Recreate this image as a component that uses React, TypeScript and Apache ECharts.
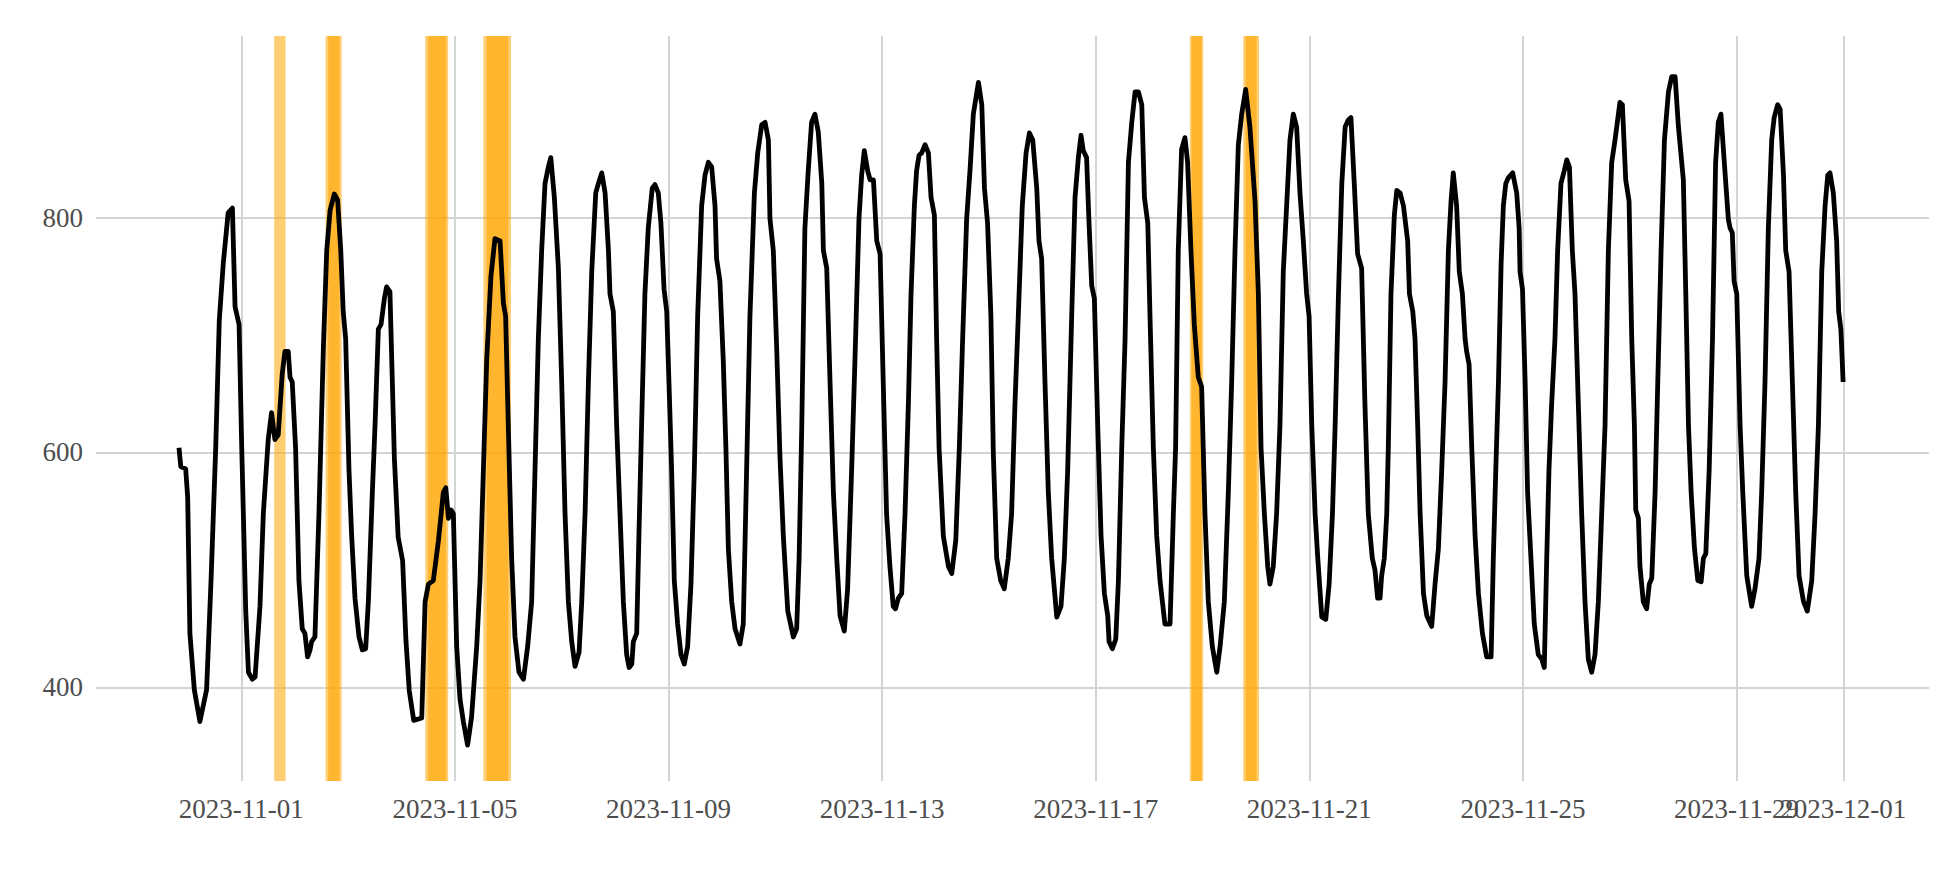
import React, { useEffect, useRef } from 'react';
import * as echarts from 'echarts';

// Hours are counted from 2023-11-01 00:00 (UTC)
const BASE = Date.UTC(2023, 10, 1);
const HOUR = 3600000;

const xTickDates = [
  '2023-11-01', '2023-11-05', '2023-11-09', '2023-11-13', '2023-11-17',
  '2023-11-21', '2023-11-25', '2023-11-29', '2023-12-01',
];
// tick whose label overlaps its neighbour (as in the reference); drawn on a twin axis so both stay visible
const overlappingTickDates = ['2023-11-29'];
const yTicks = [400, 600, 800];
const xRangeHours = [-65.3, 758.5];
const yRange = [320.4, 954.5];

// [hour offset, value]
const readings: Array<[number, number]> = [
  [-28, 604], [-27.2, 588], [-25, 586], [-24.1, 562], [-23.1, 446], [-21.1, 398], [-18.6, 371], [-15.6, 398],
  [-13.6, 491], [-11.5, 604], [-9.9, 712], [-8.1, 761], [-5.9, 804], [-4, 808], [-2.8, 724], [-1, 709],
  [0.2, 604], [2, 465], [3.2, 413], [5, 407], [6.2, 409], [8.4, 469], [9.9, 548], [12.1, 611], [13.6, 634],
  [15.1, 611], [16.6, 615], [18.4, 667], [19.6, 686], [21.1, 686], [21.9, 664], [22.9, 660], [24.4, 604],
  [25.9, 491], [27.4, 450], [28.6, 446], [29.8, 426], [30.9, 432], [31.6, 439], [33.1, 443], [34.9, 548],
  [36.9, 690], [38.4, 772], [39.9, 806], [41.8, 820], [43.3, 815], [44.7, 772], [45.8, 720], [46.9, 697],
  [48.4, 585], [49.6, 529], [51.1, 476], [52.9, 443], [54.4, 432], [55.9, 433], [57.1, 473], [58.9, 566],
  [60.1, 623], [61.6, 705], [62.8, 709], [64.3, 731], [65.3, 741], [66.8, 737], [68.8, 595], [70.5, 528],
  [72.5, 508], [74, 440], [75.5, 397], [77.5, 372], [81.1, 374], [82.6, 473], [84.1, 488], [86.3, 491],
  [88.6, 525], [90.8, 566], [91.9, 570], [93.1, 544], [94.3, 551], [95.3, 548], [96.8, 435], [98.3, 390],
  [99.8, 371], [101.7, 351], [103.5, 375], [105.8, 435], [107.3, 491], [108.8, 585], [110.3, 679], [112.2, 750],
  [114, 782], [116.3, 780], [117.8, 727], [118.8, 716], [120, 623], [121.5, 510], [123, 443], [124.8, 413],
  [126.8, 407], [128.7, 435], [130.5, 473], [132, 585], [133.5, 697], [135, 772], [136.5, 829], [138, 843],
  [139.1, 851], [140.7, 817], [142.5, 757], [144, 660], [145.5, 548], [147, 473], [148.5, 439], [150, 418],
  [151.8, 430], [153, 473], [154.5, 548], [156, 660], [157.5, 754], [159.3, 821], [160.5, 829], [162, 838],
  [163.5, 821], [165, 772], [165.7, 735], [167.2, 720], [168.7, 623], [170.2, 548], [171.7, 473], [173.2, 428],
  [174.3, 417], [175.5, 420], [176.2, 439], [177.7, 446], [178.7, 529], [179.9, 623], [181.4, 735], [182.9, 791],
  [184.7, 825], [185.9, 828], [187.4, 821], [188.6, 795], [190, 739], [191.2, 720], [192.2, 660], [193.4, 585],
  [194.6, 491], [196.1, 454], [197.6, 428], [199.1, 420], [200.6, 435], [202.1, 488], [203.6, 585], [205.1, 716],
  [206.9, 810], [208.4, 836], [209.9, 847], [211.4, 843], [212.9, 810], [213.6, 765], [215.1, 746], [216.6, 679],
  [217.8, 604], [218.9, 518], [220.4, 473], [221.9, 450], [224.1, 437], [225.6, 454], [227.1, 585], [228.6, 716],
  [230.6, 821], [232.1, 855], [233.9, 879], [235.4, 881], [236.9, 866], [237.6, 799], [239.1, 772], [240.6, 690],
  [242.1, 596], [243.6, 529], [245.6, 465], [248.1, 443], [249.6, 450], [250.7, 510], [251.9, 623], [253.3, 791],
  [254.8, 840], [256.3, 881], [257.8, 888], [259.3, 873], [260.9, 829], [261.6, 772], [263.1, 757], [264.6, 660],
  [266.1, 566], [267.6, 510], [269.1, 461], [271, 448], [272.5, 484], [274.3, 585], [275.8, 679], [277.6, 799],
  [278.8, 836], [280, 857], [281.5, 840], [282.6, 832], [284.1, 832], [285.6, 780], [287.1, 769], [288.5, 660],
  [290, 548], [291.5, 503], [293, 469], [294, 467], [295.3, 476], [296.8, 480], [298.3, 548], [299.8, 641],
  [301, 735], [302.5, 810], [303.5, 840], [304.6, 853], [305.8, 855], [307.3, 862], [308.8, 855], [310, 817],
  [311.5, 802], [312.5, 697], [313.6, 604], [315.5, 529], [317.8, 503], [319.3, 497], [321.1, 525], [322.7, 604],
  [324.2, 697], [326, 799], [327.5, 840], [329, 888], [331.3, 915], [332.8, 896], [334, 825], [335.4, 795],
  [336.9, 716], [338, 598], [339.5, 510], [341.3, 491], [342.9, 484], [344.7, 510], [346.2, 548], [347.7, 641],
  [349.2, 716], [351, 810], [352.7, 855], [354.2, 872], [355.7, 866], [357.5, 825], [358.5, 780], [359.7, 765],
  [361.2, 660], [362.7, 566], [364.2, 510], [366.5, 460], [368.4, 469], [369.9, 510], [371.4, 585], [373.2, 716],
  [374.7, 817], [376.2, 851], [377.4, 870], [378.4, 857], [379.9, 851], [381, 795], [382.2, 742], [383.4, 731],
  [384.9, 623], [386.4, 529], [387.9, 480], [389.4, 461], [390, 439], [391.5, 433], [393, 441], [394.2, 491],
  [395.7, 604], [397.2, 697], [398.7, 847], [400.2, 881], [401.7, 907], [403.2, 907], [404.7, 896], [405.9, 817],
  [407.4, 795], [408.4, 716], [409.9, 604], [411.4, 529], [412.9, 491], [415.1, 454], [417.4, 454], [418.9, 548],
  [419.9, 604], [421.1, 772], [422.6, 858], [424.1, 868], [425.3, 847], [426.8, 772], [428.3, 709], [430.1, 664],
  [431.6, 656], [433.1, 548], [434.6, 473], [436.4, 435], [438.4, 413], [439.9, 435], [441.8, 473], [443.6, 566],
  [445.1, 660], [446.6, 772], [448.1, 862], [449.6, 888], [451.4, 909], [453.3, 877], [455.6, 814], [457.1, 735],
  [458.3, 604], [459.8, 548], [461.3, 503], [462.3, 488], [463.8, 503], [465.3, 548], [466.8, 623], [468.3, 754],
  [469.8, 810], [471.3, 866], [472.8, 888], [474.3, 877], [475.8, 821], [477.3, 780], [478.8, 735], [479.9, 716],
  [481.1, 623], [482.6, 548], [483.8, 510], [485.6, 460], [487.4, 458], [488.9, 488], [490.4, 548], [491.6, 623],
  [493.1, 735], [494.6, 829], [496.1, 877], [497.5, 883], [498.7, 885], [500.2, 829], [501.7, 769], [503.5, 757],
  [505, 641], [506.5, 548], [508.3, 510], [509.5, 500], [510.7, 476], [511.8, 476], [512.5, 495], [513.7, 510],
  [514.8, 548], [515.5, 604], [516.7, 735], [518.2, 802], [519.3, 823], [520.8, 821], [522.3, 810], [524.2, 780],
  [525, 735], [526.5, 720], [527.5, 697], [528.7, 623], [529.8, 548], [531.3, 480], [532.8, 461], [535, 452],
  [536.5, 488], [538, 518], [539.5, 585], [541, 660], [542.5, 772], [543.7, 814], [544.7, 838], [546.2, 810],
  [547.4, 754], [548.8, 735], [550, 697], [550.7, 686], [551.8, 675], [553, 604], [554.5, 529], [556, 480],
  [557.8, 446], [559.7, 426], [561.7, 426], [562.7, 510], [563.8, 585], [565, 660], [566.2, 761], [567.2, 810],
  [568.3, 829], [569.5, 834], [571.4, 838], [573.2, 821], [574.3, 791], [574.7, 754], [575.8, 739], [577, 660],
  [578.1, 566], [579.6, 510], [581.1, 454], [582.9, 428], [584.5, 424], [585.6, 417], [586.7, 510], [587.7, 585],
  [588.9, 641], [590.4, 697], [591.6, 772], [593.1, 829], [594.6, 840], [595.7, 849], [596.9, 843], [598.2, 772],
  [599.4, 735], [600.9, 641], [602.4, 548], [603.9, 473], [605.4, 424], [606.9, 413], [608.4, 428], [609.9, 473],
  [611.4, 548], [612.9, 623], [614.4, 772], [615.9, 847], [617.4, 866], [619.6, 898], [620.7, 896], [622.2, 832],
  [623.7, 814], [624.9, 697], [626.1, 623], [626.7, 551], [627.9, 544], [628.6, 503], [630.1, 473], [631.6, 467],
  [632.8, 488], [633.9, 493], [635.4, 566], [636.6, 660], [638.1, 772], [639.6, 866], [641.4, 907], [642.9, 920],
  [644.4, 920], [645.9, 877], [648.1, 832], [649.2, 735], [650.4, 623], [651.6, 566], [653.1, 518], [654.6, 491],
  [656.1, 490], [657.1, 510], [658.2, 514], [659.7, 585], [661.2, 697], [662.6, 847], [663.8, 881], [665, 888],
  [666.5, 847], [668.3, 799], [669.1, 791], [670.1, 787], [670.9, 746], [672.1, 735], [673.6, 623], [674.8, 566],
  [676.6, 495], [678.8, 469], [680.3, 484], [682.1, 510], [683.3, 566], [684.8, 660], [686.3, 791], [687.8, 866],
  [688.9, 885], [690.5, 896], [691.6, 892], [693.1, 836], [694.1, 772], [695.6, 754], [697.1, 660], [698.6, 566],
  [700.1, 495], [702.1, 473], [703.8, 465], [705.8, 491], [707.3, 548], [708.8, 623], [710.3, 754], [711.8, 810],
  [713, 836], [714, 838], [715.5, 821], [717, 780], [717.9, 720], [718.9, 705], [719.9, 660],
];

// anomaly windows (hour offsets): full extent and darker core
const anomalyBands: Array<[number, number]> = [
  [14.8, 19.9], [37.9, 45.1], [82.7, 93.0], [108.8, 121.2], [426.3, 432.3], [450.3, 457.4],
];
const anomalyCores: Array<[number, number]> = [
  [39.1, 44.1], [84.0, 92.0], [110.3, 120.0], [427.1, 431.6], [451.4, 456.3],
];

const toMs = (h: number) => BASE + h * HOUR;
const dateMs = (d: string) => Date.parse(d + 'T00:00:00Z');
const xTickValues = xTickDates.map(dateMs);
const mainLabelValues = xTickDates.filter((d) => !overlappingTickDates.includes(d)).map(dateMs);
const twinLabelValues = overlappingTickDates.map(dateMs);

export default function App() {
  const ref = useRef<HTMLDivElement>(null);
  useEffect(() => {
    if (!ref.current) return;
    const chart = echarts.init(ref.current, undefined, { renderer: 'svg' });
    const labelStyle = { color: '#4d4d4d', fontSize: 27, fontFamily: '"Liberation Serif", serif' };
    const gridLine = { show: true, lineStyle: { color: '#d4d4d4', width: 2 } };
    const fmt = (v: number) => new Date(v).toISOString().slice(0, 10);
    const xMin = toMs(xRangeHours[0]);
    const xMax = toMs(xRangeHours[1]);
    chart.setOption({
      animation: false,
      grid: { left: 96, top: 36, width: 1833, height: 745, containLabel: false },
      xAxis: [
        {
          type: 'value',
          min: xMin,
          max: xMax,
          axisLine: { show: false },
          axisTick: { show: false, customValues: xTickValues },
          axisLabel: {
            ...labelStyle,
            customValues: mainLabelValues,
            margin: 14,
            showMinLabel: true,
            showMaxLabel: true,
            hideOverlap: false,
            formatter: fmt,
          },
          splitLine: gridLine,
        },
        {
          type: 'value',
          position: 'bottom',
          offset: 0,
          min: xMin,
          max: xMax,
          axisLine: { show: false },
          axisTick: { show: false, customValues: twinLabelValues },
          axisLabel: {
            ...labelStyle,
            customValues: twinLabelValues,
            margin: 14,
            showMinLabel: true,
            showMaxLabel: true,
            formatter: fmt,
          },
          splitLine: { show: false },
        },
      ],
      yAxis: {
        type: 'value',
        min: yRange[0],
        max: yRange[1],
        axisLine: { show: false },
        axisTick: { show: false, customValues: yTicks },
        axisLabel: { ...labelStyle, customValues: yTicks, margin: 13 },
        splitLine: gridLine,
      },
      series: [
        {
          type: 'line',
          data: readings.map(([h, v]) => [toMs(h), v]),
          showSymbol: false,
          symbol: 'none',
          lineStyle: { color: '#000000', width: 4.8, join: 'round', cap: 'butt' },
          z: 2,
          silent: true,
        },
        {
          type: 'line',
          data: [],
          z: 5,
          silent: true,
          markArea: {
            silent: true,
            itemStyle: { color: 'rgba(255,165,0,0.55)' },
            data: anomalyBands.map(([a, b]) => [{ xAxis: toMs(a) }, { xAxis: toMs(b) }]),
          },
        },
        {
          type: 'line',
          data: [],
          z: 6,
          silent: true,
          markArea: {
            silent: true,
            itemStyle: { color: 'rgba(255,165,0,0.6)' },
            data: anomalyCores.map(([a, b]) => [{ xAxis: toMs(a) }, { xAxis: toMs(b) }]),
          },
        },
      ],
    });
    return () => chart.dispose();
  }, []);
  return (
    <div
      ref={ref}
      style={{ position: 'absolute', left: 0, top: 0, width: 1960, height: 874, background: '#ffffff' }}
    />
  );
}
